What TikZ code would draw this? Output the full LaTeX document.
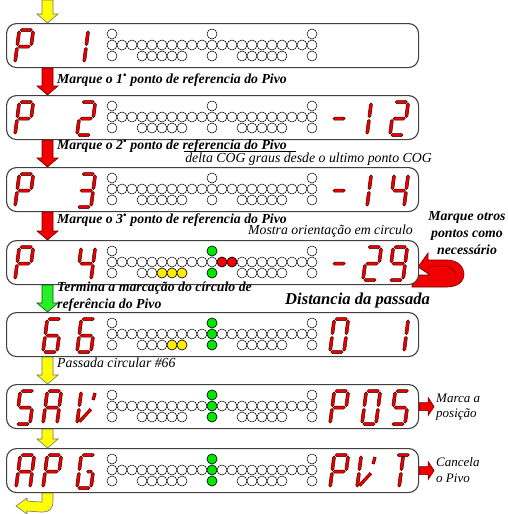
\documentclass[tikz,border=0pt]{standalone}
\usepackage{fontspec}
\setmainfont{Liberation Serif}
\usetikzlibrary{calc}
\definecolor{segred}{RGB}{235,0,0}
\definecolor{segedgec}{RGB}{60,0,0}
\definecolor{ledgreen}{RGB}{0,230,0}
\definecolor{ledyellow}{RGB}{255,235,0}
\definecolor{ledred}{RGB}{240,0,0}
\definecolor{arryellow}{RGB}{255,255,0}
\definecolor{arrred}{RGB}{240,0,0}
\definecolor{arrgreen}{RGB}{40,240,40}
\tikzset{
 panel/.style={draw=black!75, line width=1.1pt, rounded corners=10pt, fill=white, minimum width=412pt, minimum height=44pt, inner sep=0pt, anchor=north west},
 ledst/.style={draw=black, line width=0.5pt, fill=white},
 segst/.style={fill=segred, draw=segedgec, line width=0.5pt, line join=miter},
 segedge/.style={line width=3.2pt, draw=segedgec},
 segfill/.style={line width=2.2pt, draw=segred, shorten <=0.5pt, shorten >=0.5pt},
 yarrow/.style={fill=arryellow, draw=black!55, line width=0.6pt},
 rarrow/.style={fill=arrred, draw=red!45!black, line width=0.6pt},
 garrow/.style={fill=arrgreen, draw=green!35!black, line width=0.6pt},
 bitext/.style={font=\fontsize{13.8}{17}\selectfont\bfseries\itshape, inner sep=0pt},
 ittext/.style={font=\fontsize{13.8}{16}\selectfont\itshape, inner sep=0pt},
}
\newcommand\dig[3]{\begin{scope}[shift={(#1,-#2)},xslant=0.13]#3\end{scope}}
% horizontal and vertical hexagonal segments
\newcommand\sgH[3]{\filldraw[segst] (#1,#3) -- (#1+1.5,#3+1.5) -- (#2-1.5,#3+1.5) -- (#2,#3) -- (#2-1.5,#3-1.5) -- (#1+1.5,#3-1.5) -- cycle;}
\newcommand\sgV[3]{\filldraw[segst] (#1,#2) -- (#1+1.5,#2+1.5) -- (#1+1.5,#3-1.5) -- (#1,#3) -- (#1-1.5,#3-1.5) -- (#1-1.5,#2+1.5) -- cycle;}
\newcommand\sgm[4]{\draw[segedge] (#1,#2)--(#3,#4);\draw[segfill] (#1,#2)--(#3,#4);}
\newcommand\sgA{\sgH{0.9}{13.1}{33}}
\newcommand\sgB{\sgV{14}{17.4}{32.1}}
\newcommand\sgC{\sgV{14}{0.9}{15.6}}
\newcommand\sgD{\sgH{0.9}{13.1}{0}}
\newcommand\sgE{\sgV{0}{0.9}{15.6}}
\newcommand\sgF{\sgV{0}{17.4}{32.1}}
\newcommand\sgG{\sgH{0.9}{13.1}{16.5}}
\newcommand\sgGh{\sgH{7.5}{13.1}{16.5}}
\newcommand\sgTu{\sgV{7}{17.4}{32.1}}
\newcommand\sgTl{\sgV{7}{0.9}{15.6}}
\newcommand\sgVd{\sgm{2.2}{2.4}{12}{14.8}}
\newcommand\sgVb{\sgm{14}{31}{13}{24}}
\newcommand\chP{\sgA\sgB\sgG\sgE\sgF}
\newcommand\chS{\sgA\sgF\sgG\sgC\sgD}
\newcommand\chA{\sgA\sgB\sgC\sgE\sgF\sgG}
\newcommand\chO{\sgA\sgB\sgC\sgD\sgE\sgF}
\newcommand\chV{\sgF\sgE\sgVd\sgVb}
\newcommand\ledgrid[1]{%
 \foreach \i in {0,10,20}{\filldraw[ledst] (112+10*\i,-#1-11) circle (5);}
 \foreach \i in {0,...,20}{\filldraw[ledst] (112+10*\i,-#1-22) circle (5);}
 \foreach \i in {0,3,4,5,6,7,10,13,14,15,16,17,20}{\filldraw[ledst] (112+10*\i,-#1-33) circle (5);}}
\newcommand\ledc[4]{\filldraw[ledst,fill=#1] (112+10*#2,-#4-#3) circle (5);}
\newcommand\blockdown[3]{\draw[#1] let \p1=(#2), \p2=(#3) in (\x1+36pt,\y1) -- (\x1+47pt,\y1) -- (\x1+47pt,\y2+9pt) -- (\x1+52pt,\y2+9pt) -- (\x1+41.5pt,\y2) -- (\x1+31pt,\y2+9pt) -- (\x1+36pt,\y2+9pt) -- cycle;}
\newcommand\sidearrow[1]{\draw[rarrow] let \p1=(#1) in (\x1,\y1+4pt) -- (\x1+9pt,\y1+4pt) -- (\x1+9pt,\y1+9pt) -- (\x1+15pt,\y1) -- (\x1+9pt,\y1-9pt) -- (\x1+9pt,\y1-4pt) -- (\x1,\y1-4pt) -- cycle;}
\begin{document}
\begin{tikzpicture}[x=1pt,y=1pt]
\useasboundingbox (0,0) rectangle (508,-514);
\fill[white] (0,0) rectangle (508,-514);
% U-turn arrow (drawn first so the panel covers its tail)
\coordinate (p4e) at (418,-262);
\begin{scope}[shift={(p4e)}]
\draw[rarrow] (0,-5) -- (10,9) -- (10,2) -- (29,2) .. controls (41,2) and (46,-6) .. (46,-12)
  .. controls (46,-20) and (39,-25) .. (29,-25) -- (-6,-25) -- (-6,-13) -- (12,-13) -- cycle;
\draw[red!45!black, line width=0.5pt] (10,-4) -- (28,-4) .. controls (35,-5) and (38,-10) .. (38,-14);
\end{scope}
% panels
\node[panel] (p1) at (6,-23) {};
\node[panel] (p2) at (6,-95) {};
\node[panel] (p3) at (6,-167) {};
\node[panel] (p4) at (6,-240) {};
\node[panel] (p5) at (6,-312) {};
\node[panel] (p6) at (6,-384) {};
\node[panel] (p7) at (6,-448) {};
% LEDs
\ledgrid{23}\ledgrid{95}\ledgrid{167}\ledgrid{240}\ledgrid{312}\ledgrid{384}\ledgrid{448}
\ledc{ledgreen}{10}{11}{240}\ledc{ledgreen}{10}{33}{240}
\ledc{ledred}{11}{22}{240}\ledc{ledred}{12}{22}{240}
\ledc{ledyellow}{5}{33}{240}\ledc{ledyellow}{6}{33}{240}\ledc{ledyellow}{7}{33}{240}
\ledc{ledgreen}{10}{11}{312}\ledc{ledgreen}{10}{22}{312}\ledc{ledgreen}{10}{33}{312}
\ledc{ledyellow}{6}{33}{312}\ledc{ledyellow}{7}{33}{312}
\ledc{ledgreen}{10}{11}{384}\ledc{ledgreen}{10}{22}{384}\ledc{ledgreen}{10}{33}{384}
\ledc{ledgreen}{10}{11}{448}\ledc{ledgreen}{10}{22}{448}\ledc{ledgreen}{10}{33}{448}
% digits
\dig{15}{63}{\chP}\dig{70}{63}{\sgB\sgC}
\dig{15}{135}{\chP}\dig{77}{135}{\sgA\sgB\sgG\sgE\sgD}
\dig{330}{135}{\sgG}\dig{353}{135}{\sgB\sgC}\dig{390}{135}{\sgA\sgB\sgG\sgE\sgD}
\dig{15}{207}{\chP}\dig{77}{207}{\sgA\sgB\sgG\sgC\sgD}
\dig{330}{207}{\sgG}\dig{353}{207}{\sgB\sgC}\dig{390}{207}{\sgF\sgG\sgB\sgC}
\dig{15}{280}{\chP}\dig{77}{280}{\sgF\sgG\sgB\sgC}
\dig{330}{280}{\sgG}\dig{363}{280}{\sgA\sgB\sgG\sgE\sgD}\dig{389}{280}{\sgA\sgB\sgC\sgD\sgF\sgG}
\dig{43}{352}{\sgA\sgF\sgG\sgE\sgD\sgC}\dig{77}{352}{\sgA\sgF\sgG\sgE\sgD\sgC}
\dig{330}{352}{\chO}\dig{390}{352}{\sgB\sgC}
\dig{16}{424}{\chS}\dig{43}{424}{\chA}\dig{77}{424}{\chV}
\dig{330}{424}{\chP}\dig{362}{424}{\chO}\dig{391}{424}{\chS}
\dig{16}{488}{\chA}\dig{43}{488}{\chP}\dig{77}{488}{\sgA\sgF\sgE\sgD\sgC\sgGh}
\dig{330}{488}{\chP}\dig{357}{488}{\chV}\dig{392}{488}{\sgA\sgTu\sgTl}
% connectors
\coordinate (start) at (6,0);
\blockdown{yarrow}{start}{p1.north west}
\blockdown{rarrow}{p1.south west}{p2.north west}
\blockdown{rarrow}{p2.south west}{p3.north west}
\blockdown{rarrow}{p3.south west}{p4.north west}
\blockdown{garrow}{p4.south west}{p5.north west}
\blockdown{yarrow}{p5.south west}{p6.north west}
\blockdown{yarrow}{p6.south west}{p7.north west}
\coordinate (endarr) at (16,-506);
\draw[yarrow] let \p1=(p7.south west) in (\x1+36pt,\y1) -- (\x1+47pt,\y1) -- (\x1+47pt,\y1-8pt)
  .. controls (\x1+47pt,\y1-16pt) and (\x1+43pt,\y1-19pt) .. (\x1+36pt,\y1-19pt)
  -- (27,-511) -- (27,-514) -- (endarr) -- (27,-498) -- (27,-501) -- (\x1+36pt,\y1-9pt) -- cycle;
\sidearrow{p6.east}
\sidearrow{p7.east}
% texts
\node[bitext, anchor=west] (t1) at (57,-80) {Marque o 1\textsuperscript{\textbullet} ponto de referencia do Pivo};
\node[bitext, anchor=west] (t2) at (57,-146) {Marque o 2\textsuperscript{\textbullet} ponto de referencia do Pivo};
\draw[black, line width=0.5pt] (184,-151.5) -- (296,-151.5);
\node[ittext, anchor=east] (delta) at (432,-159) {delta COG graus desde o ultimo ponto COG};
\node[bitext, anchor=west] (t3) at (57,-220) {Marque o 3\textsuperscript{\textbullet} ponto de referencia do Pivo};
\node[ittext, anchor=east] (mostra) at (413,-231) {Mostra orientação em circulo};
\node[bitext, align=center] (otros) at (467,-233) {Marque otros\\pontos como\\necessário};
\node[bitext, anchor=west, align=left] (termina) at (57,-296.5) {Termina a marcação do círculo de\\referência do Pivo};
\node[font=\fontsize{16.6}{19}\selectfont\bfseries\itshape, inner sep=0pt, anchor=west] (dist) at (285,-301) {Distancia da passada};
\node[ittext, anchor=west] (passada) at (57,-363) {Passada circular \#66};
\node[font=\fontsize{13}{15}\selectfont\itshape, inner sep=0pt, anchor=west, align=left] (marca) at (436,-407.5) {Marca a\\posição};
\node[font=\fontsize{13}{16}\selectfont\itshape, inner sep=0pt, anchor=west, align=left] (cancela) at (436,-470) {Cancela\\o Pivo};
\end{tikzpicture}
\end{document}
